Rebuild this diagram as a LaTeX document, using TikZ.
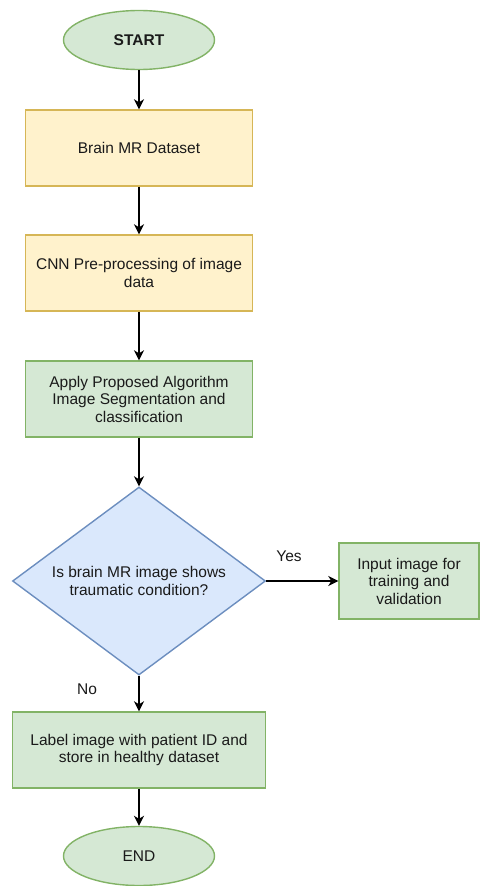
\documentclass[tikz,border=0pt]{standalone}
\usepackage{fontspec}
\setmainfont{Liberation Sans}
\usetikzlibrary{shapes.geometric,arrows.meta}

\definecolor{greenfill}{HTML}{D5E8D4}
\definecolor{greenline}{HTML}{82B366}
\definecolor{yellowfill}{HTML}{FFF2CC}
\definecolor{yellowline}{HTML}{D6B656}
\definecolor{bluefill}{HTML}{DAE8FC}
\definecolor{blueline}{HTML}{6C8EBF}
\definecolor{textgray}{HTML}{1A1A1A}

\tikzset{
  terminal/.style={ellipse, draw=greenline, fill=greenfill, line width=1.4pt,
    minimum width=151pt, minimum height=59pt, inner sep=0pt},
  yellowbox/.style={rectangle, draw=yellowline, fill=yellowfill, line width=1.4pt,
    minimum width=227pt, minimum height=76pt, align=center, inner sep=0pt},
  greenbox/.style={rectangle, draw=greenline, fill=greenfill, line width=1.4pt,
    minimum width=227pt, minimum height=76pt, align=center, inner sep=0pt},
  decision/.style={diamond, draw=blueline, fill=bluefill, line width=1.4pt, aspect=1.35,
    minimum width=253pt, minimum height=188pt, align=center, inner sep=0pt},
  flow/.style={->, >={Stealth[length=10pt,width=10pt,inset=3pt]}, line width=1.7pt, black},
  edgelabel/.style={inner sep=0pt}
}

\begin{document}
\begin{tikzpicture}[x=1pt, y=-1pt, font=\fontsize{15.5}{17.5}\selectfont, text=textgray]

% picture frame
\useasboundingbox (0,0) rectangle (480,886);

% main column
\node [terminal] (start) at (139,40) {\textbf{START}};
\node [yellowbox] (dataset) at (139,148) {Brain MR Dataset};
\node [yellowbox] (preproc) at (139,273) {CNN Pre-processing of image\\data};
\node [greenbox ] (algo) at (139,399) {Apply Proposed Algorithm\\Image Segmentation and\\classification};
\node [decision ] (check) at (139,581) {Is brain MR image shows\\traumatic condition?};
\node [greenbox, minimum width=140pt] (train) at (409,581) {Input image for\\training and\\validation};
\node [greenbox, minimum width=253pt] (store) at (139,750) {Label image with patient ID and\\store in healthy dataset};
\node [terminal] (finish) at (139,856) {END};

% arrows
\draw [flow] (start) -- (dataset);
\draw [flow] (dataset) -- (preproc);
\draw [flow] (preproc) -- (algo);
\draw [flow] (algo) -- (check);
\draw [flow] (check) -- (train);
\draw [flow] (check) -- (store);
\draw [flow] (store) -- (finish);

% branch labels
\node [edgelabel] (yes) at (289,556) {Yes};
\node [edgelabel] (no ) at (87,689) {No};

\end{tikzpicture}
\end{document}
